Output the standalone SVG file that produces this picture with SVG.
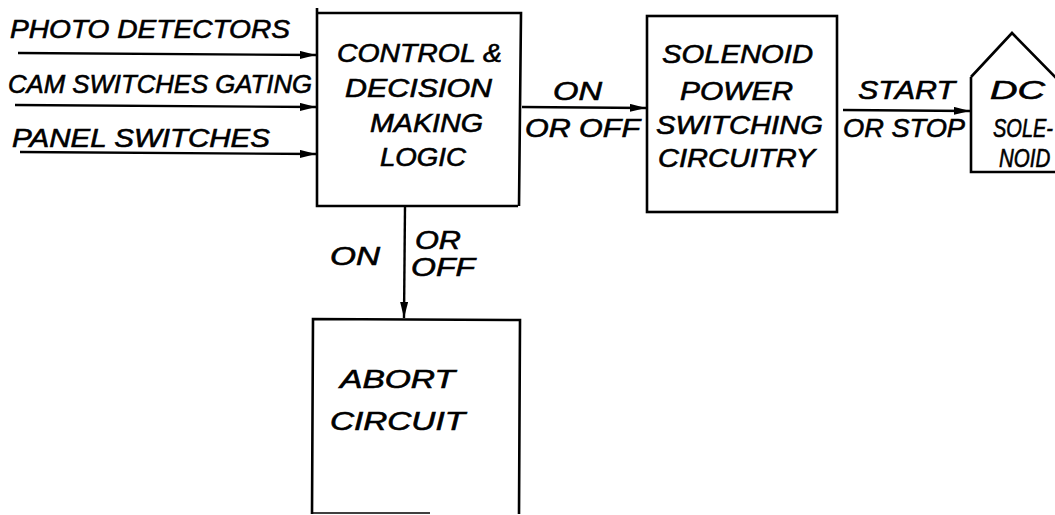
<svg xmlns="http://www.w3.org/2000/svg" width="1055" height="515" viewBox="0 0 1055 515">
  <style>
    .box { fill: none; stroke: #000; stroke-width: 2.6; stroke-linejoin: miter; }
    .wire { fill: none; stroke: #000; stroke-width: 2.4; }
    .lbl { font-family: "Liberation Sans", "DejaVu Sans", sans-serif; font-style: italic; font-size: 25px; fill: #000; stroke: #000; stroke-width: 0.6; }
  </style>
  <defs>
    <marker id="arrow" viewBox="0 0 16 8" refX="16" refY="4" markerWidth="16" markerHeight="8" markerUnits="userSpaceOnUse" orient="auto">
      <path d="M0,0 L16,4 L0,8 Z" fill="#000"/>
    </marker>
  </defs>
  <rect width="1055" height="515" fill="#fff"/>

  <!-- signal lines -->
  <g id="connectors">
    <line class="wire" x1="18" y1="53" x2="316" y2="55" marker-end="url(#arrow)"/>
    <line class="wire" x1="15" y1="105" x2="316" y2="107" marker-end="url(#arrow)"/>
    <line class="wire" x1="20" y1="152" x2="316" y2="154" marker-end="url(#arrow)"/>
    <line class="wire" x1="522" y1="107" x2="646" y2="108" marker-end="url(#arrow)"/>
    <line class="wire" x1="843" y1="110" x2="970" y2="111" marker-end="url(#arrow)"/>
    <line class="wire" x1="405" y1="207" x2="404" y2="318" marker-end="url(#arrow)"/>
  </g>

  <!-- input labels -->
  <g id="inputs">
    <text class="lbl" x="10" y="38" textLength="280" lengthAdjust="spacingAndGlyphs">PHOTO  DETECTORS</text>
    <text class="lbl" x="8" y="93" textLength="304" lengthAdjust="spacingAndGlyphs">CAM SWITCHES GATING</text>
    <text class="lbl" x="12" y="147" textLength="258" lengthAdjust="spacingAndGlyphs">PANEL  SWITCHES</text>
  </g>

  <g id="control-logic">
    <path class="box" d="M317,8 L317,206 L518,206 M317,13 L521,13 L519,206"/>
    <text class="lbl" x="337" y="62" textLength="165" lengthAdjust="spacingAndGlyphs">CONTROL &amp;</text>
    <text class="lbl" x="345" y="97" textLength="147" lengthAdjust="spacingAndGlyphs">DECISION</text>
    <text class="lbl" x="370" y="132" textLength="113" lengthAdjust="spacingAndGlyphs">MAKING</text>
    <text class="lbl" x="380" y="166" textLength="86" lengthAdjust="spacingAndGlyphs">LOGIC</text>
  </g>

  <g id="on-off-label">
    <text class="lbl" x="553" y="100" textLength="49" lengthAdjust="spacingAndGlyphs">ON</text>
    <text class="lbl" x="525" y="137" textLength="115" lengthAdjust="spacingAndGlyphs">OR OFF</text>
  </g>

  <g id="solenoid-power">
    <rect class="box" x="647" y="16" width="190" height="196"/>
    <text class="lbl" x="662" y="63" textLength="151" lengthAdjust="spacingAndGlyphs">SOLENOID</text>
    <text class="lbl" x="680" y="100" textLength="113" lengthAdjust="spacingAndGlyphs">POWER</text>
    <text class="lbl" x="656" y="134" textLength="167" lengthAdjust="spacingAndGlyphs">SWITCHING</text>
    <text class="lbl" x="658" y="167" textLength="157" lengthAdjust="spacingAndGlyphs">CIRCUITRY</text>
  </g>

  <g id="start-stop-label">
    <text class="lbl" x="858" y="99" textLength="97" lengthAdjust="spacingAndGlyphs">START</text>
    <text class="lbl" x="843" y="137" textLength="122" lengthAdjust="spacingAndGlyphs">OR STOP</text>
  </g>

  <g id="dc-solenoid">
    <path class="box" d="M971,77 L971,172 L1058,172 M971,77 L1012,33 L1058,80"/>
    <text class="lbl" x="990" y="99" textLength="55" lengthAdjust="spacingAndGlyphs">DC</text>
    <text class="lbl" transform="translate(993,137) scale(0.8,1)">SOLE-</text>
    <text class="lbl" transform="translate(999,167) scale(0.82,1)">NOID</text>
  </g>

  <g id="abort-labels">
    <text class="lbl" x="330" y="265" textLength="50" lengthAdjust="spacingAndGlyphs">ON</text>
    <text class="lbl" x="415" y="249" textLength="46" lengthAdjust="spacingAndGlyphs">OR</text>
    <text class="lbl" x="411" y="276" textLength="64" lengthAdjust="spacingAndGlyphs">OFF</text>
  </g>

  <g id="abort-circuit">
    <path class="box" d="M312,514 L313,319 L520,320 L519,514"/>
    <path d="M312,513 L430,513" stroke="#000" stroke-width="1.5" fill="none"/>
    <text class="lbl" x="340" y="388" textLength="115" lengthAdjust="spacingAndGlyphs">ABORT</text>
    <text class="lbl" x="330" y="430" textLength="135" lengthAdjust="spacingAndGlyphs">CIRCUIT</text>
  </g>
</svg>
